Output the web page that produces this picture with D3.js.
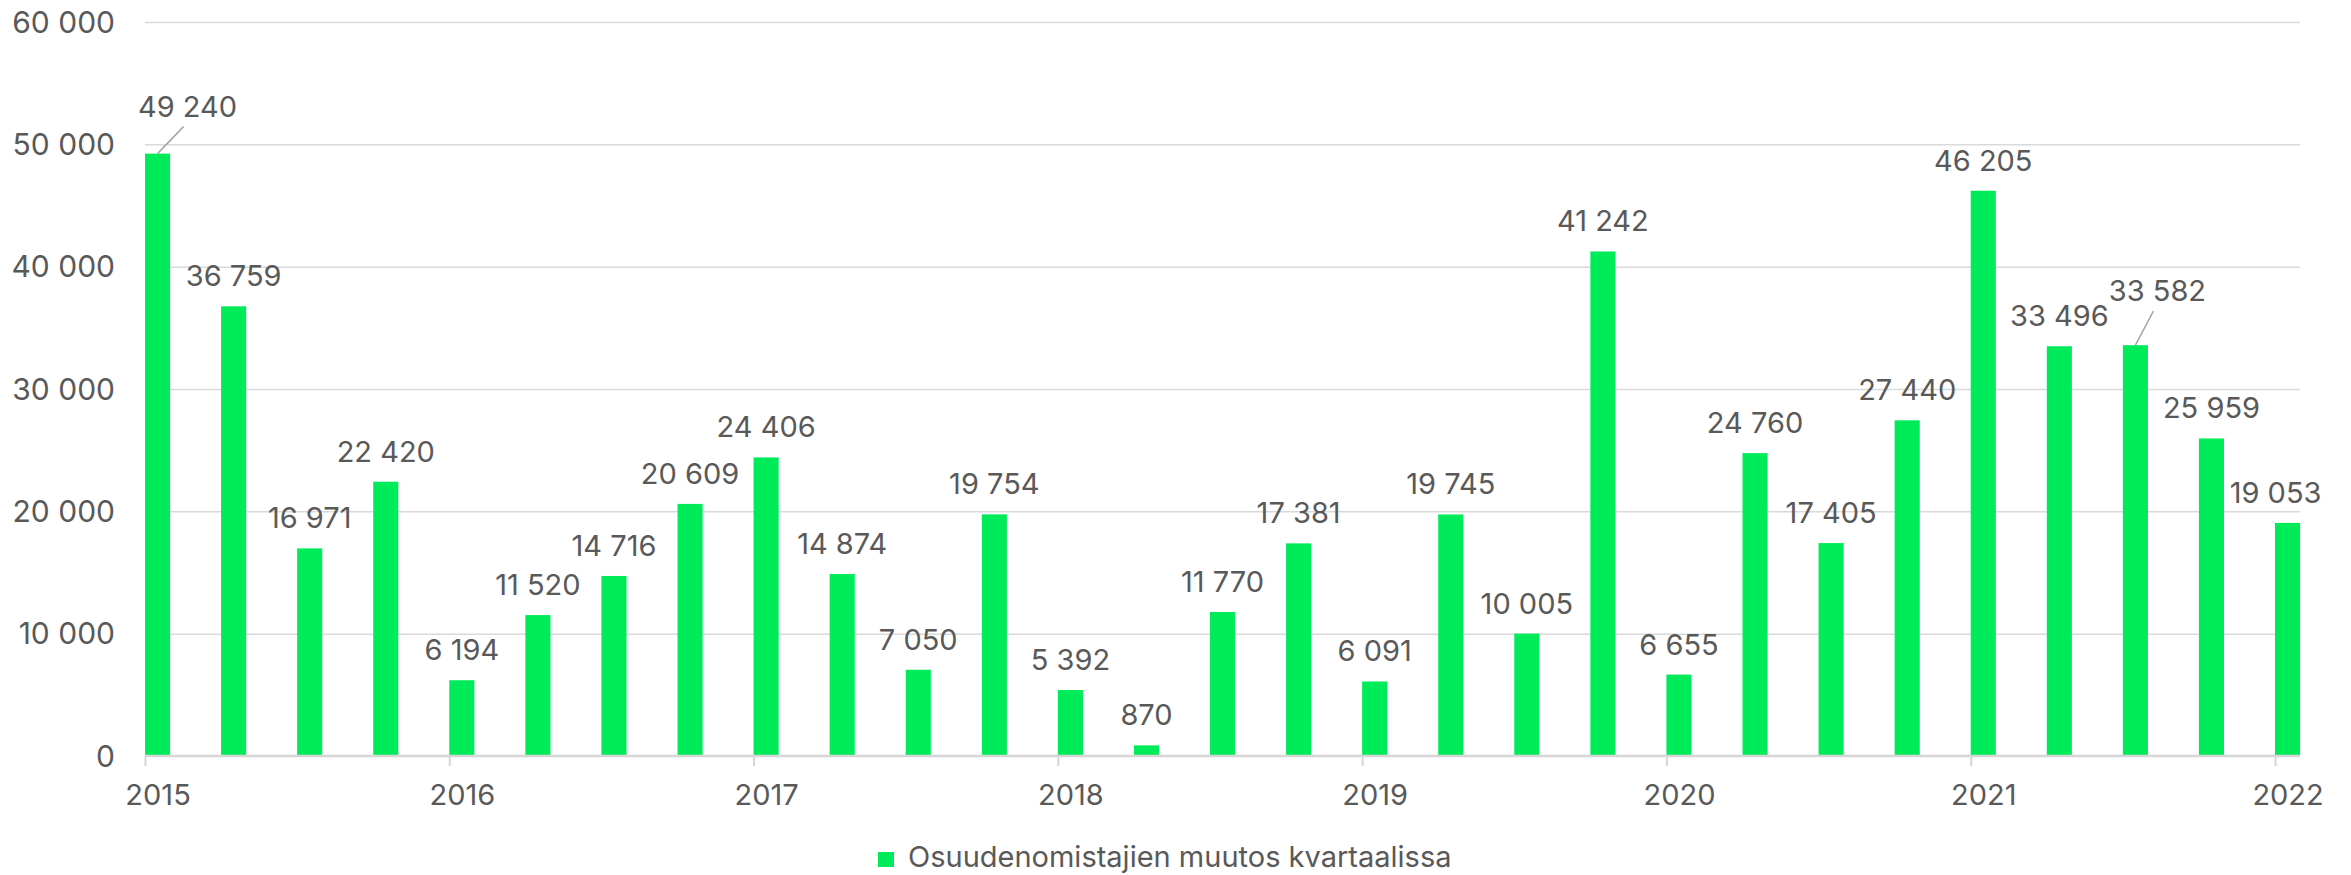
<!DOCTYPE html>
<html>
<head>
<meta charset="utf-8">
<script src="https://cdn.jsdelivr.net/npm/d3@7"></script>
<style>
  body { margin: 0; background: #fff; }
  text { font-family: Inter, Roboto, "Noto Sans", sans-serif; fill: #595959; }
  .grid-line line { stroke: #d9d9d9; stroke-width: 1.5; }
  .grid-line path { display: none; }
</style>
</head>
<body>
<div id="chart"></div>
<script>
// Data
const quarters = [
  "2015 Q1", "2015 Q2", "2015 Q3", "2015 Q4",
  "2016 Q1", "2016 Q2", "2016 Q3", "2016 Q4",
  "2017 Q1", "2017 Q2", "2017 Q3", "2017 Q4",
  "2018 Q1", "2018 Q2", "2018 Q3", "2018 Q4",
  "2019 Q1", "2019 Q2", "2019 Q3", "2019 Q4",
  "2020 Q1", "2020 Q2", "2020 Q3", "2020 Q4",
  "2021 Q1", "2021 Q2", "2021 Q3", "2021 Q4",
  "2022 Q1"
];
const holderChange = [
  49240, 36759, 16971, 22420,
  6194, 11520, 14716, 20609,
  24406, 14874, 7050, 19754,
  5392, 870, 11770, 17381,
  6091, 19745, 10005, 41242,
  6655, 24760, 17405, 27440,
  46205, 33496, 33582, 25959,
  19053
];
const yearTicks = [2015, 2016, 2017, 2018, 2019, 2020, 2021, 2022];
const yTicks = [0, 10000, 20000, 30000, 40000, 50000, 60000];
const seriesName = "Osuudenomistajien muutos kvartaalissa";

// labels that were moved off the bar, some with a leader line
const labelShift = { 0: [30, -17, true], 26: [22, -24, true], 28: [-12, 0, false] };

const width = 2351;
const height = 875;
const margin = { top: 22, right: 51, bottom: 119, left: 145 };

const fi = d3.formatLocale({ decimal: ",", thousands: "\u00a0", grouping: [3], currency: ["", " €"] });
const fmt = fi.format(",d");

const data = quarters.map((q, i) => {
  const [yr, qq] = q.split(" Q");
  return { quarter: q, t: +yr + (+qq - 1) / 4, value: holderChange[i] };
});

const svg = d3.select("#chart").append("svg")
  .attr("width", width)
  .attr("height", height);

const xScale = d3.scaleLinear()
  .domain([2015, 2022])
  .range([margin.left, 2275]);

const yScale = d3.scaleLinear()
  .domain([0, 60000])
  .range([height - margin.bottom, margin.top]);

const barW = (xScale(2015.25) - xScale(2015)) * 0.33;
const plotRight = width - margin.right;

// Gridlines
svg.append("g")
  .attr("class", "grid-line")
  .attr("transform", `translate(${margin.left},0)`)
  .call(d3.axisLeft(yScale).tickValues(yTicks.slice(1)).tickSize(-(plotRight - margin.left)).tickFormat(""));

// Y labels
svg.append("g").selectAll("text")
  .data(yTicks)
  .enter().append("text")
    .attr("x", 115)
    .attr("y", d => yScale(d))
    .attr("dy", "0.36em")
    .style("text-anchor", "end")
    .style("font-size", "30px")
    .text(d => fmt(d));

// Bars
svg.append("g").selectAll("rect")
  .data(data)
  .enter().append("rect")
    .attr("x", d => xScale(d.t))
    .attr("y", d => yScale(d.value))
    .attr("width", barW)
    .attr("height", d => yScale(0) - yScale(d.value))
    .attr("fill", "#00eb5a");

// X axis
const xAxisG = svg.append("g")
  .attr("transform", `translate(0,${yScale(0)})`)
  .call(d3.axisBottom(xScale).tickValues(yearTicks).tickFormat(d3.format("d")).tickSize(10).tickPadding(18));

xAxisG.select(".domain")
  .attr("d", `M${margin.left},0H${plotRight}`)
  .attr("stroke", "#d6d6d6")
  .attr("stroke-width", 2.5);
xAxisG.selectAll(".tick line").attr("stroke", "#d6d6d6").attr("stroke-width", 2);
xAxisG.selectAll(".tick text")
  .attr("x", barW / 2)
  .style("font-size", "29px")
  .attr("fill", "#595959");

// Value labels
const labels = svg.append("g");
data.forEach((d, i) => {
  const cx = xScale(d.t) + barW / 2;
  const top = yScale(d.value);
  const s = labelShift[i] || [0, 0, false];
  const lx = cx + s[0];
  const ly = top - 20 + s[1];

  if (s[2]) {
    labels.append("line")
      .attr("x1", cx)
      .attr("y1", top)
      .attr("x2", lx - 4)
      .attr("y2", ly + 10)
      .attr("stroke", "#a6a6a6")
      .attr("stroke-width", 1.5);
  }

  labels.append("text")
    .attr("x", lx)
    .attr("y", ly)
    .style("text-anchor", "middle")
    .style("font-size", "29px")
    .text(fmt(d.value));
});

// Legend
const legend = svg.append("g");
legend.append("rect")
  .attr("x", 0)
  .attr("y", -15)
  .attr("width", 16)
  .attr("height", 15)
  .attr("fill", "#00eb5a");
const legendText = legend.append("text")
  .attr("x", 30)
  .attr("y", 0)
  .style("font-size", "29px")
  .text(seriesName);
const legendW = 30 + legendText.node().getComputedTextLength();
legend.attr("transform", `translate(${Math.round(1165 - legendW / 2)},867)`);
</script>
</body>
</html>
